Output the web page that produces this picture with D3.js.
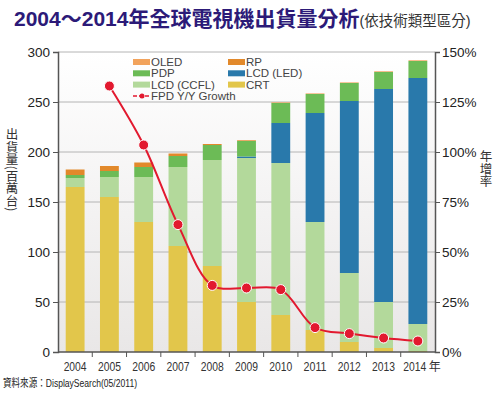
<!DOCTYPE html>
<html>
<head>
<meta charset="utf-8">
<script src="https://cdn.jsdelivr.net/npm/d3@7"></script>
<style>
  body { margin: 0; background: #fff; }
  text { font-family: "Liberation Sans", Arial, "Noto Sans CJK TC", sans-serif; }
</style>
</head>
<body>
<script>
// Data
const years = ['2004', '2005', '2006', '2007', '2008', '2009', '2010', '2011', '2012', '2013', '2014'];
const crt  = [165, 155, 130, 106, 86, 50, 37, 22, 10, 4, 1];
const ccfl = [9, 20, 45, 79, 106, 144, 152, 108, 69, 46, 27];
const led  = [0, 0, 0, 0, 0, 1.5, 40, 109, 172, 213, 246];
const pdp  = [3, 6, 10, 11, 15, 15.5, 20, 19, 18, 17, 17];
const rp   = [5.5, 5, 4.5, 2.5, 1, 0.7, 0.3, 0, 0, 0, 0];
const oled = [0, 0, 0, 0, 0, 0, 0.4, 0.6, 0.6, 0.7, 0.7];
const growth = [null, 133, 103.5, 63.7, 33.3, 32, 31.2, 12.2, 9.2, 7, 5.5];
const leftTicks = [0, 50, 100, 150, 200, 250, 300];
const rightTicks = [0, 25, 50, 75, 100, 125, 150];

const series = [
  { key: 'CRT', values: crt, color: '#e2c64b' },
  { key: 'LCD (CCFL)', values: ccfl, color: '#b3d99b' },
  { key: 'LCD (LED)', values: led, color: '#2979ab' },
  { key: 'PDP', values: pdp, color: '#6cbb56' },
  { key: 'RP', values: rp, color: '#e2892b' },
  { key: 'OLED', values: oled, color: '#f2a35c' }
];

const W = 500, H = 395;
const margin = { top: 52, right: 65, bottom: 43, left: 58 };
const width = W - margin.left - margin.right;
const height = H - margin.top - margin.bottom;

const root = d3.select('body').append('svg')
  .attr('width', W)
  .attr('height', H);

// plot background gradient
const defs = root.append('defs');
const grad = defs.append('linearGradient')
  .attr('id', 'bg')
  .attr('x1', 0).attr('y1', 0).attr('x2', 0).attr('y2', 1);
grad.append('stop').attr('offset', '0%').attr('stop-color', '#ffffff');
grad.append('stop').attr('offset', '100%').attr('stop-color', '#e9e7e7');

const svg = root.append('g')
  .attr('transform', `translate(${margin.left},${margin.top})`);

svg.append('rect')
  .attr('width', width)
  .attr('height', height)
  .attr('fill', 'url(#bg)');

// scales
const x = d3.scaleBand()
  .domain(years)
  .range([0, width])
  .paddingInner(0.45)
  .paddingOuter(0.225);

const y = d3.scaleLinear().domain([0, 300]).range([height, 0]);
const y2 = d3.scaleLinear().domain([0, 150]).range([height, 0]);

// gridlines
svg.append('g')
  .selectAll('line')
  .data(leftTicks.slice(1))
  .enter().append('line')
  .attr('x1', 0).attr('x2', width)
  .attr('y1', d => y(d)).attr('y2', d => y(d))
  .attr('stroke', '#b4b4b4')
  .attr('stroke-width', 1);

// stacked bars
const table = years.map((yr, i) => {
  const row = { year: yr };
  series.forEach(s => { row[s.key] = s.values[i]; });
  return row;
});
const stacked = d3.stack().keys(series.map(s => s.key))(table);

svg.append('g')
  .selectAll('g')
  .data(stacked)
  .enter().append('g')
  .attr('fill', (d, i) => series[i].color)
  .selectAll('rect')
  .data(d => d)
  .enter().append('rect')
  .attr('x', d => x(d.data.year))
  .attr('y', d => y(d[1]))
  .attr('width', x.bandwidth())
  .attr('height', d => y(d[0]) - y(d[1]));

// axes
const axisColor = '#555';
const leftAxis = svg.append('g')
  .call(d3.axisLeft(y).tickValues(leftTicks).tickSize(5).tickPadding(3));
const rightAxis = svg.append('g')
  .attr('transform', `translate(${width},0)`)
  .call(d3.axisRight(y2).tickValues(rightTicks).tickSize(5).tickPadding(2).tickFormat(d => d + '%'));

[leftAxis, rightAxis].forEach(a => {
  a.select('.domain').attr('stroke', axisColor).attr('stroke-width', 1.5);
  a.selectAll('.tick line').attr('stroke', axisColor);
  a.selectAll('.tick text')
    .attr('fill', '#222')
    .style('font-size', '13.5px');
});

// bottom axis: ticks between categories
const bottom = svg.append('g').attr('transform', `translate(0,${height})`);
bottom.append('line')
  .attr('x1', 0).attr('x2', width)
  .attr('stroke', axisColor).attr('stroke-width', 1.5);
bottom.selectAll('.sep')
  .data(years.slice(1))
  .enter().append('line')
  .attr('x1', d => x(d) - x.step() * x.paddingInner() / 2)
  .attr('x2', d => x(d) - x.step() * x.paddingInner() / 2)
  .attr('y1', 0).attr('y2', 5)
  .attr('stroke', axisColor);
bottom.selectAll('.lbl')
  .data(years)
  .enter().append('text')
  .attr('x', d => x(d) + x.bandwidth() / 2 - (d === '2014' ? 3 : 0))
  .attr('y', 19)
  .attr('text-anchor', 'middle')
  .attr('fill', '#333')
  .style('font-size', '12px')
  .attr('textLength', 23)
  .attr('lengthAdjust', 'spacingAndGlyphs')
  .text(d => d);
bottom.append('text')
  .attr('x', x('2014') + x.bandwidth() / 2 + 11)
  .attr('y', 19)
  .attr('fill', '#333')
  .style('font-size', '12px')
  .text('年');

// growth line
const pts = years.map((yr, i) => ({ year: yr, v: growth[i] })).filter(d => d.v !== null);
const line = d3.line()
  .x(d => x(d.year) + x.bandwidth() / 2)
  .y(d => y2(d.v))
  .curve(d3.curveCatmullRom.alpha(0.5));

svg.append('path')
  .datum(pts)
  .attr('fill', 'none')
  .attr('stroke', '#e2192f')
  .attr('stroke-width', 2)
  .attr('d', line);

svg.append('g')
  .selectAll('circle')
  .data(pts)
  .enter().append('circle')
  .attr('cx', d => x(d.year) + x.bandwidth() / 2)
  .attr('cy', d => y2(d.v))
  .attr('r', 5)
  .attr('fill', '#e2192f')
  .attr('stroke', '#fff')
  .attr('stroke-width', 1);

// legend
const legendItems = [
  { key: 'OLED', col: 0, row: 0 },
  { key: 'RP', col: 1, row: 0 },
  { key: 'PDP', col: 0, row: 1 },
  { key: 'LCD (LED)', col: 1, row: 1 },
  { key: 'LCD (CCFL)', col: 0, row: 2 },
  { key: 'CRT', col: 1, row: 2 }
];
const legend = root.append('g').attr('transform', 'translate(133,62)');
const lg = legend.selectAll('g')
  .data(legendItems)
  .enter().append('g')
  .attr('transform', d => `translate(${d.col * 95},${d.row * 11.3})`);
lg.append('rect')
  .attr('x', 0).attr('y', -3)
  .attr('width', 17).attr('height', 6)
  .attr('fill', d => series.find(s => s.key === d.key).color);
lg.append('text')
  .attr('x', 18).attr('y', 4)
  .attr('fill', '#444')
  .style('font-size', '11.5px')
  .text(d => d.key);

const lgLine = legend.append('g').attr('transform', `translate(0,${3 * 11.3})`);
lgLine.append('line')
  .attr('x1', 0).attr('x2', 17)
  .attr('stroke', '#e2192f').attr('stroke-width', 1.5)
  .attr('stroke-dasharray', '4,2');
lgLine.append('circle')
  .attr('cx', 9).attr('cy', 0).attr('r', 2.5)
  .attr('fill', '#e2192f');
lgLine.append('text')
  .attr('x', 18).attr('y', 4)
  .attr('fill', '#444')
  .style('font-size', '11.5px')
  .text('FPD Y/Y Growth');

// titles
const title = root.append('text')
  .attr('x', 14).attr('y', 26);
title.append('tspan')
  .attr('fill', '#2c1a78')
  .style('font-size', '21px')
  .style('font-weight', 'bold')
  .text('2004～2014年全球電視機出貨量分析');
title.append('tspan')
  .attr('fill', '#333')
  .style('font-size', '14.5px')
  .text('(依技術類型區分)');

// vertical axis titles
root.append('text')
  .attr('x', 12).attr('y', 128)
  .attr('fill', '#333')
  .style('font-family', '"Noto Sans CJK TC", sans-serif')
  .style('font-size', '12.5px')
  .style('writing-mode', 'vertical-rl')
  .style('text-orientation', 'mixed')
  .text('出貨量(百萬台)');

root.append('text')
  .attr('x', 486).attr('y', 150)
  .attr('fill', '#333')
  .style('font-family', '"Noto Sans CJK TC", sans-serif')
  .style('font-size', '12.5px')
  .style('writing-mode', 'vertical-rl')
  .style('text-orientation', 'mixed')
  .text('年增率');

root.append('text')
  .attr('x', 3).attr('y', 387)
  .attr('fill', '#222')
  .style('font-size', '11px')
  .attr('textLength', 134)
  .attr('lengthAdjust', 'spacingAndGlyphs')
  .text('資料來源：DisplaySearch(05/2011)');
</script>
</body>
</html>
